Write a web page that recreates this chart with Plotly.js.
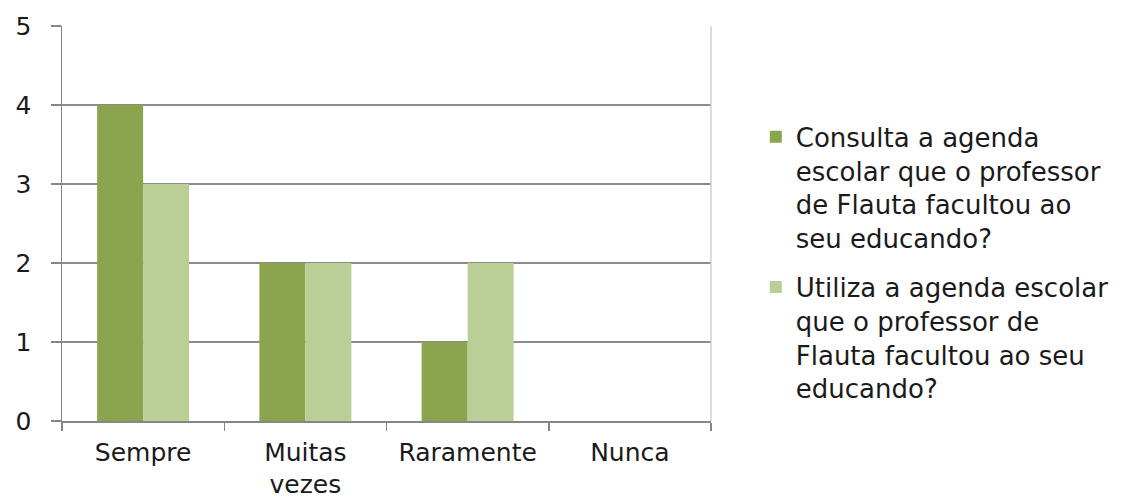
<!DOCTYPE html>
<html>
<head>
<meta charset="utf-8">
<script src="https://cdn.plot.ly/plotly-3.0.1.min.js"></script>
<style>html,body{margin:0;padding:0;background:#fff;}#chart{width:1128px;height:497px;}</style>
</head>
<body>
<div id="chart"></div>
<script>
const categories = ["Sempre", "Muitas vezes", "Raramente", "Nunca"];
const tickLabels = ["Sempre", "Muitas<br>vezes", "Raramente", "Nunca"];
const seriesNames = [
  "Consulta a agenda<br>escolar que o professor<br>de Flauta facultou ao<br>seu educando?",
  "Utiliza a agenda escolar<br>que o professor de<br>Flauta facultou ao seu<br>educando?"
];
const consultaValues = [4, 2, 1, 0];
const utilizaValues = [3, 2, 2, 0];
const yTicks = [0, 1, 2, 3, 4, 5];

const FONT = "DejaVu Sans, sans-serif";

const traces = [
  {type: "bar", x: categories, y: consultaValues, name: seriesNames[0], legendgroup: "g1",
   marker: {color: "#8AA54E", line: {width: 0}}},
  {type: "bar", x: categories, y: utilizaValues, name: seriesNames[1], legendgroup: "g2",
   marker: {color: "#BACF96", line: {width: 0}}}
];

const layout = {
  width: 1128, height: 497,
  margin: {l: 62, r: 417, t: 26, b: 76, pad: 0},
  paper_bgcolor: "#fff", plot_bgcolor: "#fff",
  font: {family: FONT, size: 26, color: "#1a1a1a"},
  barmode: "group", bargap: 0.433, bargroupgap: 0,
  showlegend: true,
  legend: {x: 1.069, xanchor: "left", y: 0.779, yanchor: "top", valign: "top",
           tracegroupgap: 12,
           font: {family: FONT, size: 26, color: "#1a1a1a"}, bgcolor: "rgba(0,0,0,0)"},
  xaxis: {type: "category", tickvals: categories, ticktext: tickLabels,
          showline: true, linecolor: "#868686", linewidth: 1.5,
          ticks: "outside", tickson: "boundaries", ticklen: 8, tickcolor: "#868686", tickwidth: 1.5,
          showgrid: false, zeroline: false, ticklabelstandoff: 8,
          tickfont: {family: FONT, size: 25, color: "#1a1a1a"}, fixedrange: true},
  yaxis: {range: [0, 5], tickvals: yTicks, ticktext: yTicks.map(String),
          showline: true, linecolor: "#868686", linewidth: 1.5,
          ticks: "outside", ticklen: 10, tickcolor: "#868686", tickwidth: 1.5,
          showgrid: true, gridcolor: "#8c8c8c", gridwidth: 1.2, zeroline: false,
          ticklabelstandoff: 14,
          tickfont: {family: FONT, size: 25, color: "#1a1a1a"}, fixedrange: true},
  shapes: [{type: "line", xref: "paper", yref: "paper", x0: 1, x1: 1, y0: 0, y1: 1,
            line: {color: "#cfcfcf", width: 1.5}}]
};

Plotly.newPlot("chart", traces, layout, {displayModeBar: false, staticPlot: true});
</script>
</body>
</html>
